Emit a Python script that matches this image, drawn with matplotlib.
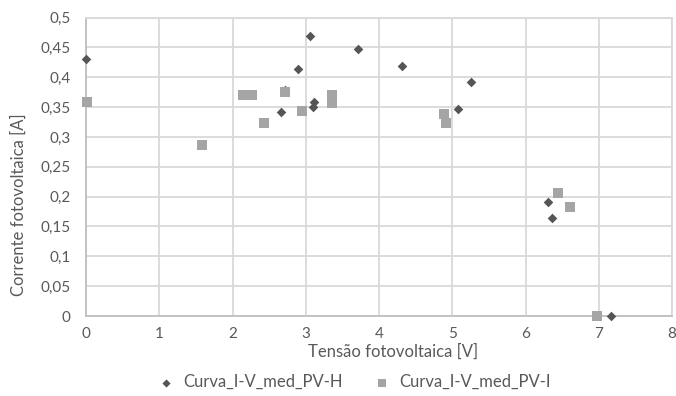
import matplotlib.pyplot as plt

plt.rcParams["font.family"] = ["Lato", "DejaVu Sans"]

# Curva_I-V_med_PV-H
pv_h_v = [0.0, 2.66, 2.71, 2.89, 3.06, 3.10, 3.11, 3.715, 4.315, 5.257, 5.08, 6.307, 6.366, 7.17]
pv_h_i = [0.431, 0.342, 0.378, 0.4135, 0.469, 0.350, 0.359, 0.448, 0.419, 0.392, 0.3466, 0.191, 0.1646, 0.0]

# Curva_I-V_med_PV-I
pv_i_v = [0.01, 1.587, 2.14, 2.26, 2.43, 2.71, 2.95, 3.365, 3.365, 4.89, 4.91, 6.44, 6.61, 6.97]
pv_i_i = [0.358, 0.286, 0.370, 0.370, 0.324, 0.3745, 0.343, 0.371, 0.356, 0.339, 0.324, 0.2065, 0.182, 0.0]

x_ticks = [0, 1, 2, 3, 4, 5, 6, 7, 8]
y_ticks = [0, 0.05, 0.1, 0.15, 0.2, 0.25, 0.3, 0.35, 0.4, 0.45, 0.5]

text_color = "#595959"
grid_color = "#D9D9D9"

fig = plt.figure(figsize=(6.76, 3.96), dpi=100)
ax = fig.add_axes([86 / 676, 1 - 316 / 396, (672 - 86) / 676, (316 - 17.5) / 396])

ax.scatter(pv_h_v, pv_h_i, marker="D", s=24, color="#555555", linewidths=0,
           label="Curva_I-V_med_PV-H", zorder=3, clip_on=False)
ax.scatter(pv_i_v, pv_i_i, marker="s", s=52, color="#A5A5A5", linewidths=0,
           label="Curva_I-V_med_PV-I", zorder=3, clip_on=False)

ax.set_xlim(0, 8)
ax.set_ylim(0, 0.5)
ax.set_xticks(x_ticks)
ax.set_yticks(y_ticks)
ax.set_xticklabels([str(t) for t in x_ticks])
ax.set_yticklabels([("%g" % t).replace(".", ",") for t in y_ticks])
ax.tick_params(length=0, labelsize=11, colors=text_color)
ax.tick_params(axis="y", pad=11)
ax.tick_params(axis="x", pad=8)

ax.grid(True, color=grid_color, linewidth=1.3)
ax.set_axisbelow(True)
for side in ["top", "right"]:
    ax.spines[side].set_color(grid_color)
    ax.spines[side].set_linewidth(1.3)
for side in ["left", "bottom"]:
    ax.spines[side].set_color("#BFBFBF")
    ax.spines[side].set_linewidth(1.3)

ax.set_xlabel("Tensão fotovoltaica [V]", fontsize=12, color=text_color)
ax.set_ylabel("Corrente fotovoltaica [A]", fontsize=12, color=text_color)
ax.xaxis.set_label_coords((393 - 86) / 586, (316 - 344) / 298.5)
ax.yaxis.set_label_coords((27 - 86) / 586, (316 - 205) / 298.5)

fig.legend(loc="center", bbox_to_anchor=(350 / 676, 1 - 382 / 396), ncol=2,
           frameon=False, fontsize=12, labelcolor=text_color, handletextpad=0.0,
           columnspacing=1.4, markerscale=0.85)

fig.savefig("out.png", dpi=100)
